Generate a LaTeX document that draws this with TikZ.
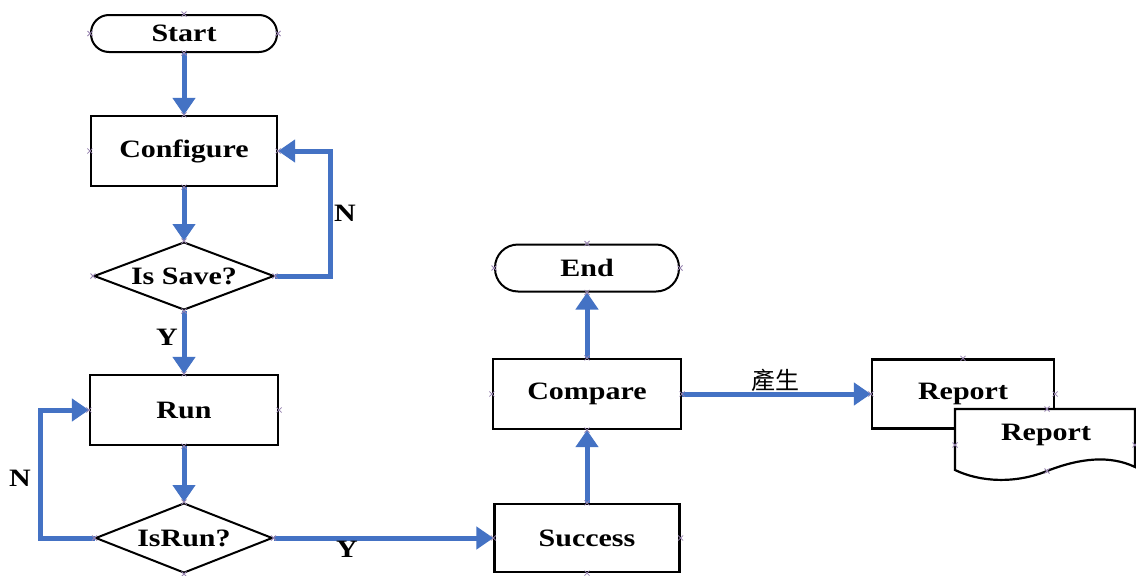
\documentclass[tikz,border=0pt]{standalone}
\usepackage{fontspec}
\setmainfont{Liberation Serif}[FakeStretch=1.2]
\newfontfamily\cjk{Noto Sans CJK TC}
\usetikzlibrary{shapes.geometric,arrows.meta}
\definecolor{flowblue}{RGB}{68,114,196}
\definecolor{cpcol}{RGB}{150,130,175}
\tikzset{
  lbl/.style={font=\fontsize{25}{27}\selectfont\bfseries},
  procbox/.style={draw, line width=2.2pt, fill=white, minimum width=186pt, minimum height=70pt, inner sep=0pt, lbl},
  termbox/.style={draw, line width=2pt, fill=white, rounded corners=18pt, minimum width=186pt, minimum height=37pt, inner sep=0pt, lbl},
  decide/.style={draw, diamond, aspect=2.65, line width=2pt, fill=white, minimum width=180pt, minimum height=68pt, inner sep=0pt, lbl},
  flow/.style={draw=flowblue, line width=5pt, -{Triangle[length=17pt,width=22pt]}},
  cmark/.style={draw=cpcol, line width=0.8pt},
}
\begin{document}
\begin{tikzpicture}[x=1pt,y=-1pt]
  \useasboundingbox[fill=white] (0,0) rectangle (1136,576);

  % left column
  \node[termbox] (start) at (184,33.5) {Start};
  \node[procbox] (config) at (184,151) {Configure};
  \node[decide] (save) at (184,276) {Is Save?};
  \node[procbox, minimum width=188pt] (run) at (184,410) {Run};
  \node[decide, minimum width=177pt, minimum height=70pt] (isrun) at (184,538) {IsRun?};

  % right column
  \node[procbox, minimum width=185pt, minimum height=68pt] (success) at (587,538) {Success};
  \node[procbox, minimum width=188pt] (compare) at (587,394) {Compare};
  \node[termbox, minimum width=184pt, minimum height=47pt, rounded corners=23pt] (end) at (587,268) {End};

  % report outputs
  \node[procbox, minimum width=182pt, minimum height=69pt] (report) at (963,394) {Report};
  \path[draw, line width=2.2pt, fill=white]
    (955,409) -- (1135,409) -- (1135,467)
    .. controls (1110,455) and (1080,458) .. (1047,471)
    .. controls (1015,484) and (980,482) .. (955,470) -- cycle;
  \node[lbl] (doc) at (1046,435) {Report};

  % connectors
  \draw[flow] (start.south) -- (config.north);
  \draw[flow] (config.south) -- (save.north);
  \draw[flow] (save.east) -- ++(55,0) |- (config.east);
  \node[lbl] (nsave) at (345,213) {N};
  \draw[flow] (save.south) -- (run.north);
  \node[lbl] (ysave) at (167,337) {Y};
  \draw[flow] (run.south) -- (isrun.north);
  \draw[flow] (isrun.west) -- ++(-54,0) |- (run.west);
  \node[lbl] (nrun) at (20,478) {N};
  \draw[flow] (isrun.east) -- (success.west);
  \node[lbl] (yrun) at (347,549) {Y};
  \draw[flow] (success.north) -- (compare.south);
  \draw[flow] (compare.north) -- (end.south);
  \draw[flow] (compare.east) -- (report.west);
  \node[font=\cjk\fontsize{24}{26}\selectfont] (gen) at (775,380) {產生};

  % connection point marks
  \foreach \p in {start.north,start.south,start.east,start.west,
                  config.north,config.south,config.east,config.west,
                  save.north,save.south,save.east,save.west,
                  run.north,run.south,run.east,run.west,
                  isrun.north,isrun.south,isrun.east,isrun.west,
                  success.north,success.south,success.east,success.west,
                  compare.north,compare.south,compare.east,compare.west,
                  end.north,end.south,end.east,end.west,
                  report.north,report.east,report.west}
    \draw[cmark] (\p) +(-2.5,-2.5) -- +(2.5,2.5) +(-2.5,2.5) -- +(2.5,-2.5);
  \foreach \q in {(1047,409),(955,445),(1135,445),(1047,471)}
    \draw[cmark] \q +(-2.5,-2.5) -- +(2.5,2.5) +(-2.5,2.5) -- +(2.5,-2.5);
\end{tikzpicture}
\end{document}
